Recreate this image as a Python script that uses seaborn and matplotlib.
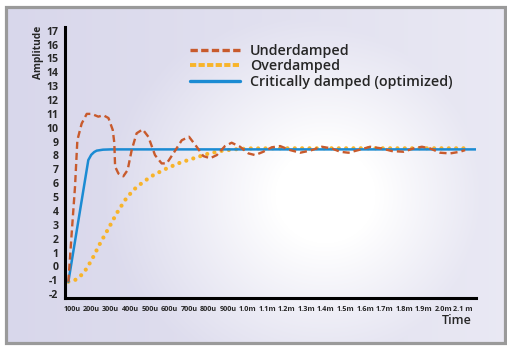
import numpy as np
import pandas as pd
import matplotlib
matplotlib.use("Agg")
import matplotlib.pyplot as plt
import seaborn as sns
from matplotlib.patches import Rectangle

# ---------------- data (time in units of 100 microseconds) ----------------
under_t = [0.83, 1.0, 1.17, 1.29, 1.51, 1.77, 2.02, 2.36, 2.62, 2.88, 3.1, 3.18, 3.22,
           3.39, 3.64, 3.86, 4.07, 4.32, 4.63, 4.92, 5.26, 5.6, 5.86, 6.2, 6.63, 7.0,
           7.39, 7.73, 8.08, 8.42, 8.84, 9.18, 9.61, 10.04, 10.38, 10.8, 11.23, 11.66,
           12.17, 12.68, 13.19, 13.79, 14.3, 14.73, 15.15, 15.66, 16.26, 16.86, 17.37,
           17.97, 18.48, 18.91, 19.33, 19.84, 20.35, 20.86, 21.12]
under_v = [-1.1, 2.4, 5.75, 9.1, 10.3, 11.0, 11.0, 10.8, 10.9, 10.7, 9.84, 8.9, 7.2,
           6.7, 6.5, 6.95, 8.4, 9.6, 9.88, 9.35, 8.03, 7.43, 7.43, 8.15, 9.1, 9.35,
           8.63, 7.96, 7.8, 8.03, 8.68, 8.92, 8.63, 8.15, 8.03, 8.27, 8.59, 8.68,
           8.39, 8.2, 8.35, 8.63, 8.51, 8.27, 8.2, 8.39, 8.63, 8.51, 8.32,
           8.27, 8.51, 8.63, 8.51, 8.2, 8.15, 8.27, 8.39]

over_t = [0.83, 1.17, 1.6, 2.02, 2.45, 2.88, 3.3, 3.73, 4.15, 4.67, 5.18, 5.86, 6.54,
          7.22, 7.9, 8.59, 9.27, 10.12, 12.0, 15.0, 18.0, 21.12]
over_v = [-1.1, -0.98, -0.5, 0.46, 1.66, 2.74, 3.83, 4.79, 5.51, 6.11, 6.59, 7.07, 7.48,
          7.79, 8.1, 8.32, 8.44, 8.51, 8.52, 8.52, 8.52, 8.52]

crit_t = [0.83, 1.85, 2.0, 2.15, 2.28, 2.6, 3.0, 21.68]
crit_v = [-1.1, 7.67, 8.05, 8.25, 8.35, 8.42, 8.44, 8.44]

x_ticks = list(range(1, 22))
x_labels = ["100u", "200u", "300u", "400u", "500u", "600u", "700u", "800u", "900u",
            "1.0m", "1.1m", "1.2m", "1.3m", "1.4m", "1.5m", "1.6m", "1.7m", "1.8m",
            "1.9m", "2.0m", "2.1 m"]
y_ticks = list(range(-2, 18))

# ---------------- figure ----------------
sns.set_style("white")
plt.rcParams['font.family'] = ['Open Sans', 'DejaVu Sans']

W, H = 507, 350
fig = plt.figure(figsize=(W / 100, H / 100), dpi=100)
fig.patch.set_facecolor("white")

# background gradient (decoration)
bg = fig.add_axes([0, 0, 1, 1], zorder=-5)
yy, xx = np.mgrid[0:H, 0:W]
lav = np.array([0.85, 0.845, 0.922])
white = np.array([1.0, 1.0, 1.0])
d = np.sqrt((xx - 325) ** 2 + ((yy - 195) * 1.05) ** 2)
wr = np.clip(1 - (d - 50) / 190, 0, 1) ** 1.1
wl = np.clip((xx - 20) / 560, 0, 1) * 0.5
w = np.clip(np.maximum(wr, wl), 0, 1)
img = lav[None, None, :] * (1 - w[..., None]) + white[None, None, :] * w[..., None]
inside = (xx >= 6) & (xx <= 504) & (yy >= 6) & (yy <= 343)
img[~inside] = 1.0
bg.imshow(img, extent=[0, W, H, 0], aspect="auto", interpolation="bilinear")
bg.set_xlim(0, W)
bg.set_ylim(H, 0)
bg.axis("off")
bg.add_patch(Rectangle((5.5, 6.5), 499, 336.5, fill=False, edgecolor="#9a9a9a",
                       linewidth=2.3))

ax = fig.add_axes([0.1289, 0.1494, 0.939 - 0.1289, 0.922 - 0.1494])
ax.patch.set_alpha(0)

df_u = pd.DataFrame({"t": under_t, "v": under_v})
df_o = pd.DataFrame({"t": over_t, "v": over_v})
df_c = pd.DataFrame({"t": crit_t, "v": crit_v})

sns.lineplot(data=df_o, x="t", y="v", ax=ax, color="#f8b42a", linewidth=3.0,
             linestyle=(0, (0.01, 1.75)), dash_capstyle="round", label="Overdamped",
             zorder=2)
sns.lineplot(data=df_c, x="t", y="v", ax=ax, color="#1b8bd3", linewidth=1.8,
             label="Critically damped (optimized)", zorder=3)
sns.lineplot(data=df_u, x="t", y="v", ax=ax, color="#c85a2c", linewidth=1.7,
             linestyle=(0, (3.0, 1.7)), label="Underdamped", zorder=4)

ax.set_xlim(0.676, 21.68)
ax.set_ylim(-2.25, 17.24)
ax.set_xticks(x_ticks)
ax.set_xticklabels(x_labels, fontsize=5.2, fontweight="bold")
ax.set_yticks(y_ticks)
ax.set_yticklabels([str(v) for v in y_ticks], fontsize=7.6, fontweight="bold")
ax.tick_params(axis="both", length=0)
ax.tick_params(axis="x", pad=6)
ax.tick_params(axis="y", pad=5)
for s in ["top", "right"]:
    ax.spines[s].set_visible(False)
for s in ["left", "bottom"]:
    ax.spines[s].set_color("black")
    ax.spines[s].set_linewidth(2.2)
ax.set_xlabel("")
ax.set_ylabel("")

fig.text(38 / W, 1 - 26 / H, "Amplitude", rotation=90, ha="center", va="top",
         fontsize=7.3, fontweight="bold")
fig.text(472 / W, 1 - 321 / H, "Time", ha="right", va="center", fontsize=9,
         fontweight="semibold")

# legend in reference order
handles, labels = ax.get_legend_handles_labels()
order = [labels.index("Underdamped"), labels.index("Overdamped"),
         labels.index("Critically damped (optimized)")]
leg = ax.legend([handles[i] for i in order], [labels[i] for i in order],
                loc="upper left", bbox_to_anchor=(190 / W, 1 - 44 / H),
                bbox_transform=fig.transFigure, frameon=False,
                prop={"size": 10.3, "weight": "semibold"},
                handlelength=3.5, handletextpad=0.7, labelspacing=0.1,
                borderaxespad=0, borderpad=0)
leg_lines = leg.get_lines()
leg_lines[0].set_linewidth(2.4)
leg_lines[0].set_linestyle((0, (2.2, 1.0)))
leg_lines[1].set_linewidth(2.8)
leg_lines[1].set_linestyle((0, (1.6, 0.6)))
leg_lines[1].set_dash_capstyle("butt")
leg_lines[2].set_linewidth(2.4)

fig.savefig("out.png", dpi=100)
